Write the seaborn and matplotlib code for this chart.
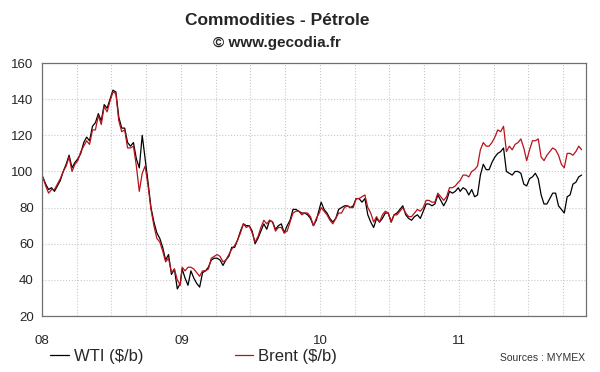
import pandas as pd
import matplotlib.pyplot as plt
import matplotlib.dates as mdates
import seaborn as sns

# weekly values, 4 per month
wti_2008 = [97, 93, 90, 91, 89, 92, 95, 100, 104, 109, 102, 105,
            107, 110, 116, 119, 117, 125, 127, 132, 128, 137, 135, 140,
            145, 144, 130, 124, 124, 116, 114, 116, 107, 102, 120, 107,
            94, 80, 72, 66, 63, 58, 51, 54, 43, 46, 35, 38]
brent_2008 = [97, 92, 88, 90, 90, 93, 96, 100, 103, 108, 100, 104,
              106, 111, 114, 117, 115, 123, 123, 131, 126, 136, 133, 139,
              144, 143, 128, 122, 123, 113, 113, 114, 103, 89, 99, 103,
              92, 79, 70, 63, 61, 56, 50, 52, 44, 46, 40, 37]
wti_2009 = [46, 41, 37, 45, 41, 38, 36, 44, 45, 47, 51, 52,
            52, 51, 48, 51, 53, 58, 58, 62, 67, 71, 70, 70,
            67, 60, 63, 67, 71, 68, 73, 72, 68, 70, 71, 66,
            70, 73, 79, 79, 78, 77, 77, 76, 74, 70, 73, 79]
brent_2009 = [47, 45, 47, 47, 46, 44, 42, 45, 45, 46, 52, 53,
              54, 53, 50, 51, 54, 57, 59, 62, 66, 71, 69, 70,
              66, 61, 64, 69, 73, 71, 73, 72, 67, 69, 69, 66,
              67, 72, 77, 78, 78, 76, 77, 77, 75, 70, 74, 77]
wti_2010 = [83, 79, 77, 74, 72, 74, 79, 80, 81, 81, 80, 81,
            85, 85, 83, 85, 76, 72, 69, 74, 72, 74, 77, 77,
            72, 76, 77, 79, 81, 76, 74, 73, 75, 76, 74, 78,
            82, 82, 81, 82, 87, 84, 81, 84, 89, 88, 89, 91]
brent_2010 = [80, 78, 76, 73, 71, 74, 77, 77, 80, 81, 80, 80,
              85, 85, 86, 87, 80, 77, 72, 75, 72, 76, 78, 77,
              72, 76, 76, 78, 80, 77, 75, 75, 77, 79, 78, 80,
              84, 84, 83, 83, 88, 86, 84, 86, 91, 91, 92, 94]
wti_2011 = [89, 91, 90, 87, 90, 86, 87, 98, 104, 101, 101, 105,
            108, 110, 111, 113, 100, 99, 98, 100, 100, 99, 93, 92,
            96, 97, 99, 96, 87, 82, 82, 85, 88, 88, 81, 79,
            77, 86, 87, 93, 94, 97, 98]
brent_2011 = [95, 98, 98, 97, 100, 101, 103, 112, 116, 114, 114, 116,
              119, 123, 122, 125, 111, 114, 112, 115, 116, 118, 113, 106,
              112, 117, 117, 118, 108, 106, 109, 111, 113, 112, 109, 104,
              102, 110, 110, 109, 111, 114, 112]

years = {2008: (wti_2008, brent_2008), 2009: (wti_2009, brent_2009),
         2010: (wti_2010, brent_2010), 2011: (wti_2011, brent_2011)}

frames = []
for yr, (w, b) in years.items():
    end = '2011-11-18' if yr == 2011 else f'{yr}-12-29'
    dates = pd.date_range(f'{yr}-01-03', end, periods=len(w))
    frames.append(pd.DataFrame({'date': dates, 'WTI': w, 'Brent': b}))
df = pd.concat(frames, ignore_index=True)

sns.set_style('white')
plt.rcParams['font.family'] = ['Liberation Sans', 'DejaVu Sans']

fig = plt.figure(figsize=(6, 3.72), dpi=100)
ax = fig.add_axes([0.07, 0.1505, 0.907, 0.68])

sns.lineplot(data=df, x='date', y='WTI', color='black', lw=0.9,
             label='WTI ($/b)', ax=ax, legend=False)
sns.lineplot(data=df, x='date', y='Brent', color='#b8121b', lw=0.9,
             label='Brent ($/b)', ax=ax, legend=False)

ax.set_xlim(pd.Timestamp('2008-01-01'), pd.Timestamp('2011-11-30'))
ax.set_ylim(20, 160)
ax.set_yticks(range(20, 161, 20))
ax.xaxis.set_major_locator(mdates.YearLocator())
ax.xaxis.set_major_formatter(mdates.DateFormatter('%y'))
ax.xaxis.set_minor_locator(mdates.MonthLocator(bymonth=[4, 7, 10]))
ax.set_xlabel('')
ax.set_ylabel('')

ax.grid(True, which='both', axis='x', color='#c8c8c8', ls=':', lw=0.8)
ax.grid(True, which='major', axis='y', color='#c8c8c8', ls=':', lw=0.8)
for s in ax.spines.values():
    s.set_color('#707070')
    s.set_linewidth(0.9)
ax.tick_params(axis='x', which='major', direction='inout', length=7,
               width=0.8, color='#505050', pad=10, labelsize=9.5)
ax.tick_params(axis='x', which='minor', length=0)
ax.tick_params(axis='y', direction='out', length=4, width=0.8,
               color='#505050', pad=2, labelsize=9.5)

fig.text(0.462, 0.945, 'Commodities - Pétrole', ha='center', va='center',
         fontsize=12.5, fontweight='bold')
fig.text(0.462, 0.885, '© www.gecodia.fr', ha='center', va='center',
         fontsize=11, fontweight='bold')
fig.text(0.975, 0.038, 'Sources : MYMEX', ha='right', va='center',
         fontsize=7.5, color='#333333')

h, l = ax.get_legend_handles_labels()
fig.legend(h, l, loc='center left', bbox_to_anchor=(0.07, 0.043),
           ncol=2, frameon=False, fontsize=12, handlelength=1.1,
           handletextpad=0.3, columnspacing=5.5, borderpad=0)

fig.savefig('out.png', dpi=100)
